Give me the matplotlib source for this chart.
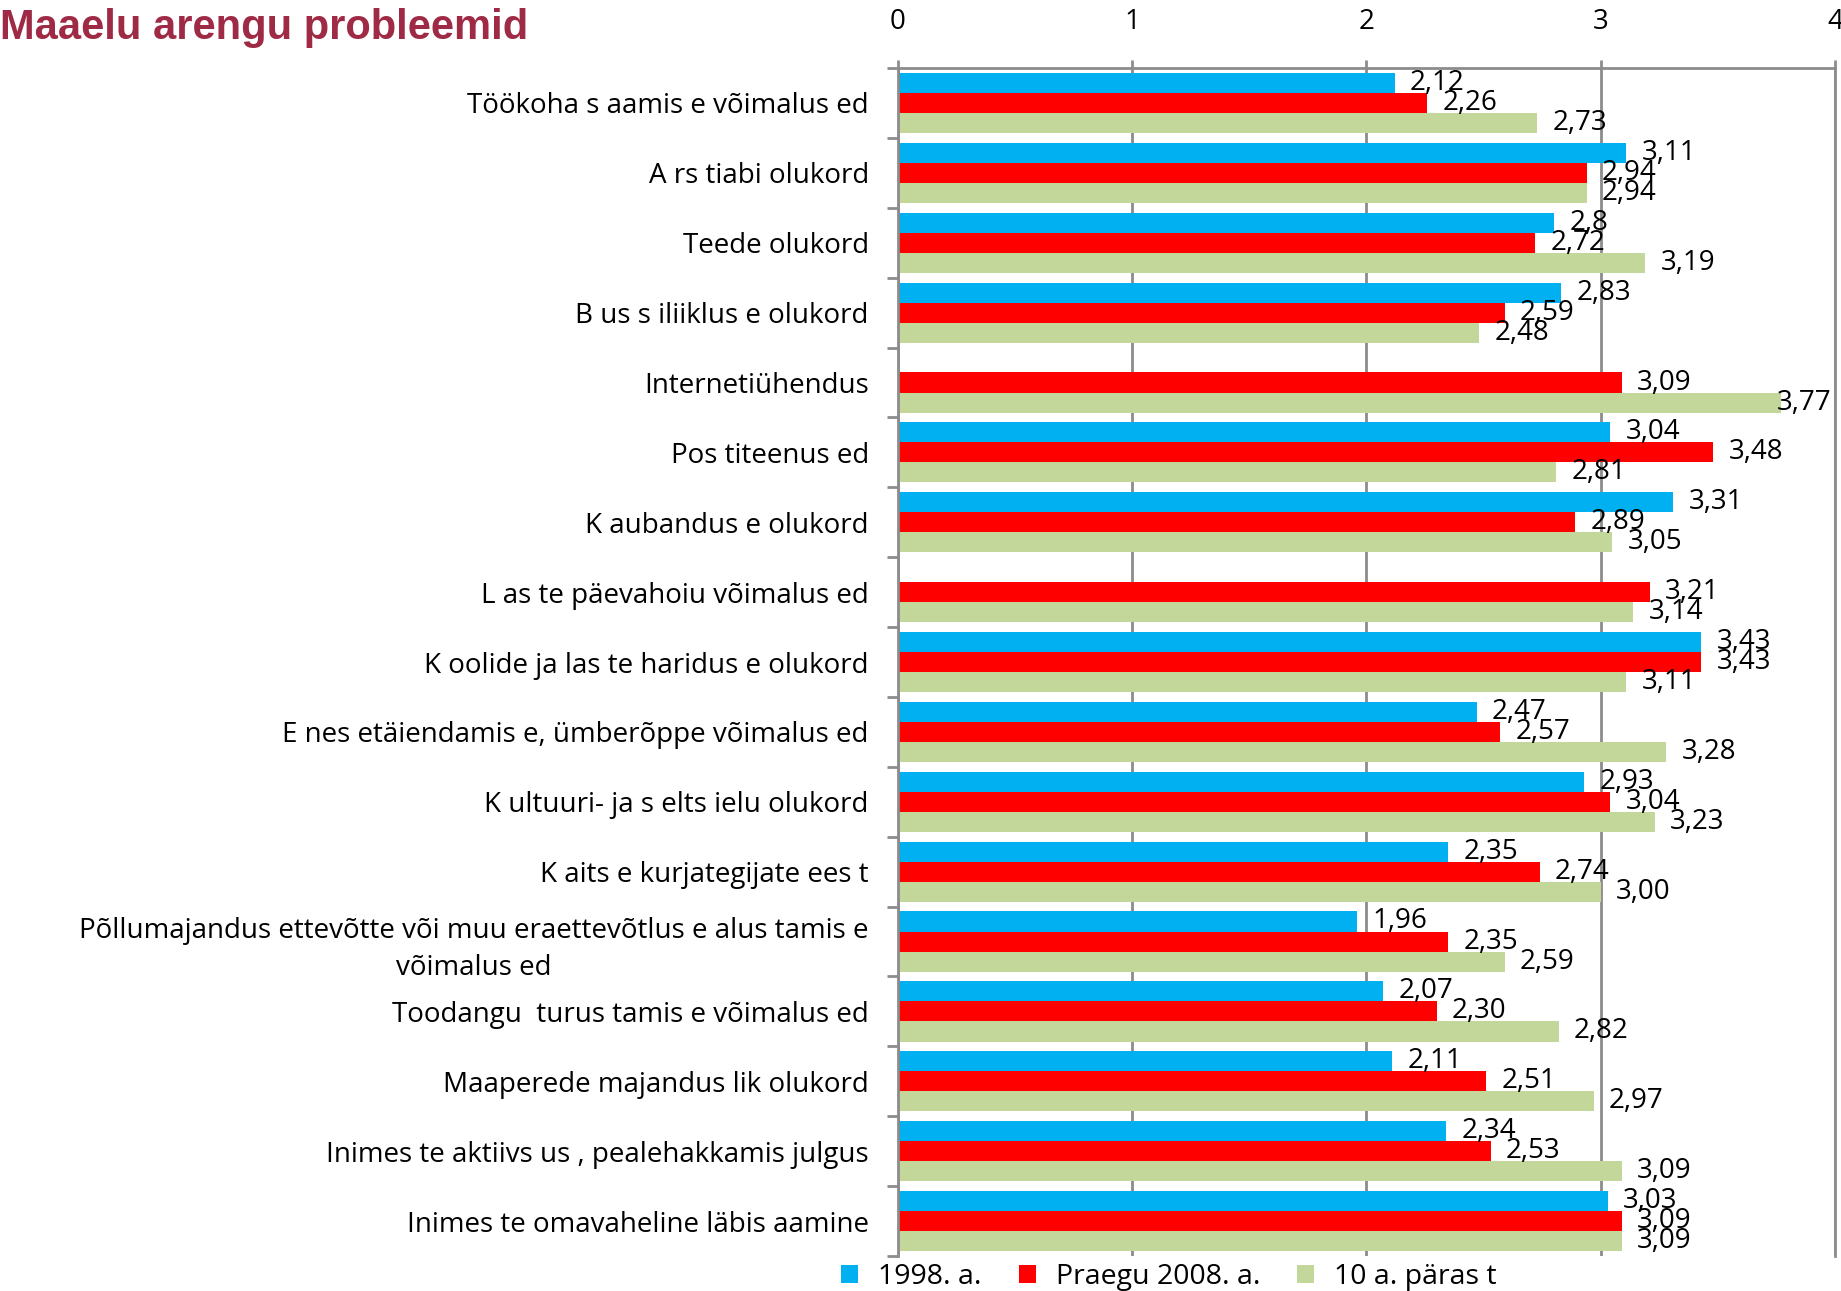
import numpy as np
import matplotlib
matplotlib.use("Agg")
import matplotlib.pyplot as plt
from matplotlib import font_manager
from matplotlib.patches import Patch

# ---------------- data ----------------
categories = [
    "Töökoha s aamis e võimalus ed",
    "A rs tiabi olukord",
    "Teede olukord",
    "B us s iliiklus e olukord",
    "Internetiühendus",
    "Pos titeenus ed",
    "K aubandus e olukord",
    "L as te päevahoiu võimalus ed",
    "K oolide ja las te haridus e olukord",
    "E nes etäiendamis e, ümberõppe võimalus ed",
    "K ultuuri- ja s elts ielu olukord",
    "K aits e kurjategijate ees t",
    "Põllumajandus ettevõtte või muu eraettevõtlus e alus tamis e\nvõimalus ed",
    "Toodangu  turus tamis e võimalus ed",
    "Maaperede majandus lik olukord",
    "Inimes te aktiivs us , pealehakkamis julgus",
    "Inimes te omavaheline läbis aamine",
]
series_names = ["1998. a.", "Praegu 2008. a.", "10 a. päras t"]
v1998 = [2.12, 3.11, 2.80, 2.83, np.nan, 3.04, 3.31, np.nan, 3.43, 2.47, 2.93, 2.35, 1.96, 2.07, 2.11, 2.34, 3.03]
v2008 = [2.26, 2.94, 2.72, 2.59, 3.09, 3.48, 2.89, 3.21, 3.43, 2.57, 3.04, 2.74, 2.35, 2.30, 2.51, 2.53, 3.09]
v10 = [2.73, 2.94, 3.19, 2.48, 3.77, 2.81, 3.05, 3.14, 3.11, 3.28, 3.23, 3.00, 2.59, 2.82, 2.97, 3.09, 3.09]
lab1998 = ["2,12", "3,11", "2,8", "2,83", "", "3,04", "3,31", "", "3,43", "2,47", "2,93", "2,35", "1,96", "2,07", "2,11", "2,34", "3,03"]
lab2008 = ["2,26", "2,94", "2,72", "2,59", "3,09", "3,48", "2,89", "3,21", "3,43", "2,57", "3,04", "2,74", "2,35", "2,30", "2,51", "2,53", "3,09"]
lab10 = ["2,73", "2,94", "3,19", "2,48", "3,77", "2,81", "3,05", "3,14", "3,11", "3,28", "3,23", "3,00", "2,59", "2,82", "2,97", "3,09", "3,09"]
x_ticks = [0, 1, 2, 3, 4]
title = "Maaelu arengu probleemid"

colors = ["#00B0F0", "#FF0000", "#C4D79B"]
grey = "#8C8C8C"

names = {f.name for f in font_manager.fontManager.ttflist}
body_font = "Open Sans" if "Open Sans" in names else "DejaVu Sans"
title_font = "Liberation Sans Narrow" if "Liberation Sans Narrow" in names else "Liberation Sans"
title_size = 34 if title_font == "Liberation Sans Narrow" else 30

plt.rcParams["font.family"] = [body_font, "DejaVu Sans"]

fig = plt.figure(figsize=(18.41, 12.91), dpi=100)
ax = fig.add_axes([0.4878, 0.0271, 0.5089, 0.9202])

y = np.arange(len(categories))
h = 0.287
for vals, labs, col, off in [(v1998, lab1998, colors[0], -h),
                              (v2008, lab2008, colors[1], 0.0),
                              (v10, lab10, colors[2], h)]:
    vals = np.array(vals, dtype=float)
    mask = ~np.isnan(vals)
    ax.barh(y[mask] + off, vals[mask], height=h, color=col, zorder=2)
    for yi, v, lb in zip(y, vals, labs):
        if np.isnan(v) or not lb:
            continue
        dx = 11 if v < 3.6 else -3
        ax.annotate(lb, (v, yi + off), xytext=(dx, 0), textcoords="offset points",
                    ha="left", va="center", fontsize=20, color="black", zorder=3)

ax.set_xlim(0, 4)
ax.set_ylim(len(categories) - 0.5, -0.5)

ax.xaxis.tick_top()
ax.set_xticks(x_ticks)
ax.set_xticklabels([str(t) for t in x_ticks])
ax.tick_params(axis="x", which="major", top=True, bottom=False, length=6, width=2,
               color=grey, pad=17, labelsize=20)
ax.xaxis.grid(True, color=grey, lw=2, zorder=0)
ax.set_axisbelow(True)

ax.set_yticks(y)
ax.set_yticklabels(categories, fontsize=20, linespacing=1.45, multialignment="center")
ax.tick_params(axis="y", which="major", length=0, pad=21)
ax.set_yticks(np.arange(-0.5, len(categories), 1.0), minor=True)
ax.tick_params(axis="y", which="minor", length=8, width=2, color=grey, left=True)

for s in ["top", "left", "right"]:
    ax.spines[s].set_color(grey)
    ax.spines[s].set_linewidth(2)
ax.spines["bottom"].set_visible(False)

fig.text(0.0, 0.978, title, fontsize=title_size, fontweight="bold", color="#9E2A45",
         family=title_font, ha="left", va="center")

handles = [Patch(facecolor=c, edgecolor="none") for c in colors]
fig.legend(handles, series_names, loc="center", bbox_to_anchor=(0.635, 0.011), ncol=3,
           frameon=False, fontsize=20.5, handlelength=0.6, handleheight=0.6,
           handletextpad=0.7, columnspacing=1.3, borderaxespad=0, borderpad=0)

fig.savefig("out.png", dpi=100)
